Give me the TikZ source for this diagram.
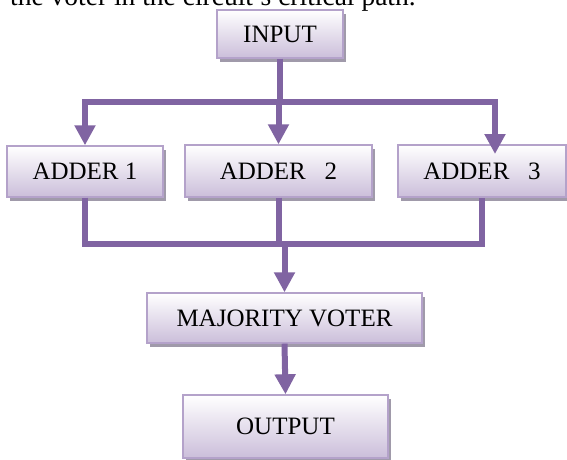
\documentclass[tikz,border=0pt]{standalone}
\usepackage{fontspec}
\setmainfont{Liberation Serif}
\usetikzlibrary{arrows.meta,shadows}
\definecolor{linec}{HTML}{8064A2}
\definecolor{boxedge}{HTML}{B4A2CA}
\definecolor{boxbot}{HTML}{CBBEDA}
\definecolor{shadowc}{HTML}{A09AAA}
\tikzset{
  blk/.style={draw=boxedge, line width=1.4pt, top color=white, bottom color=boxbot,
    inner sep=0pt, font=\fontsize{25}{29}\selectfont,
    drop shadow={shadow xshift=3pt, shadow yshift=-4pt, opacity=1, fill=shadowc}},
  wire/.style={draw=linec, line width=6pt, line join=miter},
  arrwire/.style={wire, -{Triangle[width=20pt,length=20pt]}},
}
\begin{document}
\begin{tikzpicture}[x=1pt,y=-1pt]
\useasboundingbox (0,0) rectangle (567,459);
\clip (0,0) rectangle (567,459);
\node[anchor=base west, inner sep=0pt, font=\fontsize{27.5}{32}\selectfont] (cap) at (10,5.5) {the voter in the circuit's critical path.};
\node[blk, minimum width=126pt, minimum height=48pt] (inp) at (280,34) {INPUT};
\node[blk, minimum width=156pt, minimum height=51pt] (a1) at (85,171.5) {ADDER 1};
\node[blk, minimum width=187pt, minimum height=52pt] (a2) at (278.5,171) {ADDER\ \ \ 2};
\node[blk, minimum width=168pt, minimum height=52pt] (a3) at (482,171) {ADDER\ \ \ 3};
\node[blk, minimum width=275pt, minimum height=50pt] (mv) at (284.5,318) {MAJORITY VOTER};
\node[blk, minimum width=205pt, minimum height=63pt] (out) at (285.5,426.5) {OUTPUT};
\coordinate (tm) at (280,102);
\coordinate (a3tip) at (495,154);
\coordinate (bm) at (283,244);
% top distribution
\draw[wire] (inp.south) -- (tm);
\draw[arrwire] (tm) -| (a1.north);
\draw[arrwire] (tm) -| (a3tip);
\draw[arrwire] (a2.north |- tm) -- (a2.north);
% bottom collection
\draw[wire] (a1.south) |- (bm) -| (a3.south);
\draw[wire] (a2.south) -- (a2.south |- bm);
\draw[arrwire] (mv.north |- bm) -- (mv.north);
\draw[arrwire] (mv.south) -- (out.north);
\end{tikzpicture}
\end{document}
